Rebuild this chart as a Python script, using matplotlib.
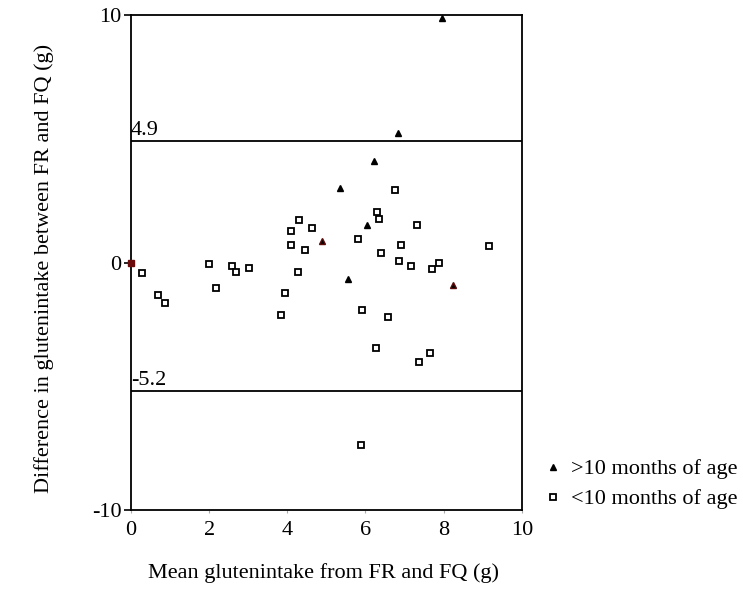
import numpy as np
import matplotlib.pyplot as plt

plt.rcParams['font.family'] = ['Liberation Serif', 'DejaVu Serif']
plt.rcParams['axes.unicode_minus'] = False

# >10 months of age (triangles)
older_x = [7.95, 6.84, 6.22, 5.35, 6.04, 5.54]
older_y = [9.9, 5.22, 4.10, 3.02, 1.53, -0.67]
# triangles drawn in dark red
older_red_x = [4.88, 8.23]
older_red_y = [0.88, -0.92]

# <10 months of age (open squares)
younger_x = [0.27, 0.70, 0.88, 2.00, 2.17, 2.59, 2.69, 3.01, 3.84, 3.93,
             4.09, 4.09, 4.30, 4.44, 4.28, 4.63, 6.76, 6.30, 6.34, 7.31,
             5.81, 6.90, 9.16, 6.39, 6.87, 7.17, 7.69, 7.88, 5.91, 6.57,
             6.27, 7.37, 7.65, 5.88]
younger_y = [-0.44, -1.31, -1.65, -0.07, -1.02, -0.13, -0.37, -0.21, -2.12, -1.21,
             0.73, 1.26, 1.74, 0.52, -0.40, 1.39, 2.93, 2.05, 1.76, 1.50,
             0.95, 0.73, 0.67, 0.37, 0.05, -0.14, -0.28, 0.00, -1.92, -2.19,
             -3.44, -4.03, -3.66, -7.39]

origin_x = [0.0]
origin_y = [0.0]

upper_limit = 4.9
lower_limit = -5.2

fs = 16

fig = plt.figure(figsize=(7.43, 6.05), dpi=100)
ax = fig.add_axes([0.1763, 0.157, 0.526, 0.818])

# limits of agreement
ax.axhline(upper_limit, color='black', lw=1.3)
ax.axhline(lower_limit, color='black', lw=1.3)
ax.text(0.0, upper_limit + 0.05, '4.9', fontsize=fs, ha='left', va='bottom')
ax.text(0.0, lower_limit + 0.05, '-5.2', fontsize=fs, ha='left', va='bottom')

ax.plot(younger_x, younger_y, 's', ms=5, mfc='white', mec='black', mew=1.3,
        clip_on=False)
ax.plot(older_x, older_y, '^', ms=4.5, color='black', clip_on=False)
ax.plot(older_red_x, older_red_y, '^', ms=4.5, mfc='black', mec='#5a0a0a',
        clip_on=False)
ax.plot(origin_x, origin_y, 's', ms=4, color='#6a0a0a', clip_on=False,
        zorder=5)

ax.set_xlim(0, 10)
ax.set_ylim(-10, 10)
ax.set_yticks([-10, 0, 10])
ax.set_xticks([0, 2, 4, 6, 8, 10])
ax.tick_params(axis='y', direction='out', length=5, width=1.2, labelsize=fs,
               pad=2)
ax.tick_params(axis='x', direction='out', length=2, width=0.8, color='#aaaaaa',
               labelsize=fs, pad=6)
for s in ax.spines.values():
    s.set_linewidth(1.3)

ax.set_ylabel('Difference in glutenintake between FR and FQ (g)', fontsize=fs)
ax.yaxis.set_label_coords(-0.197, 0.489)
fig.text(0.436, 0.053, 'Mean glutenintake from FR and FQ (g)', fontsize=fs,
         ha='center', va='center')

# legend drawn by hand to the right of the plot
fig.lines.append(plt.Line2D([553 / 743], [1 - 467 / 605], marker='^', ms=4.5,
                            color='black', transform=fig.transFigure))
fig.lines.append(plt.Line2D([553 / 743], [1 - 497 / 605], marker='s', ms=5,
                            mfc='white', mec='black', mew=1.3,
                            transform=fig.transFigure))
fig.text(571 / 743, 1 - 469 / 605, '>10 months of age', fontsize=fs,
         va='center', ha='left')
fig.text(571 / 743, 1 - 499 / 605, '<10 months of age', fontsize=fs,
         va='center', ha='left')

fig.savefig('out.png', dpi=100)
